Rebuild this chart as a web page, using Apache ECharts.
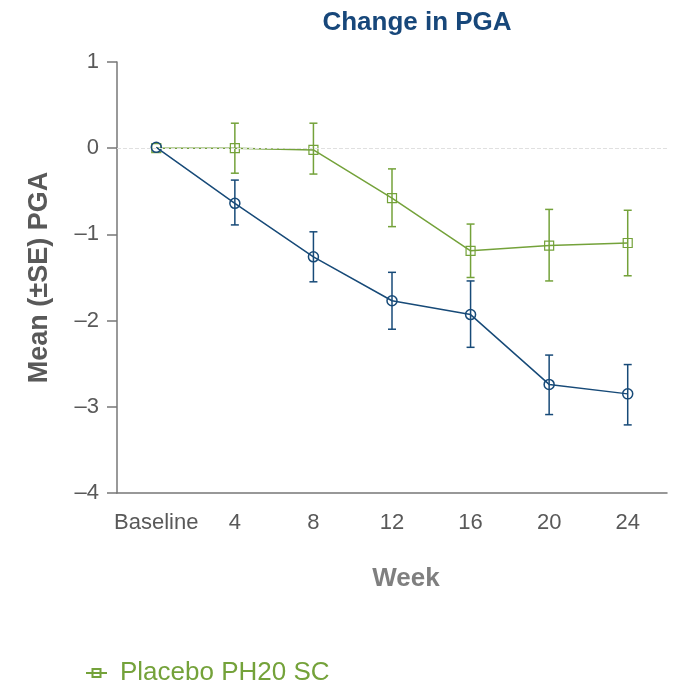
<!DOCTYPE html>
<html>
<head>
<meta charset="utf-8">
<script src="https://cdn.jsdelivr.net/npm/echarts@6/dist/echarts.min.js"></script>
<style>
  html, body { margin: 0; padding: 0; background: #fff; }
  #container { width: 679px; height: 685px; }
</style>
</head>
<body>
<div id="container"></div>
<script>
// data
let weeks = ["Baseline", "4", "8", "12", "16", "20", "24"]

let activeMean = [0.01, -0.64, -1.26, -1.77, -1.93, -2.74, -2.85]
let activeLow = [0.01, -0.89, -1.55, -2.10, -2.31, -3.09, -3.21]
let activeHigh = [0.01, -0.37, -0.97, -1.44, -1.54, -2.40, -2.51]

let placeboMean = [0, 0, -0.02, -0.58, -1.19, -1.13, -1.10]
let placeboLow = [0, -0.29, -0.30, -0.91, -1.50, -1.54, -1.48]
let placeboHigh = [0, 0.29, 0.29, -0.24, -0.88, -0.71, -0.72]

let blue = "#174a78"
let green = "#74a23a"
let grey = "#595959"

function errData(low, high){
    // skip baseline, it has no bar
    return weeks.map((w, i) => [i, low[i], high[i]]).filter((d, i) => i > 0)
}

function errSeries(name, low, high, color){
    return {
        type: "custom",
        name: name,
        data: errData(low, high),
        silent: true,
        z: 1,
        renderItem: function(params, api){
            let x = api.value(0)
            let top = api.coord([x, api.value(2)])
            let bot = api.coord([x, api.value(1)])
            let cap = 4
            let style = { stroke: color, lineWidth: 1.5, fill: null }
            return {
                type: "group",
                children: [
                    { type: "line", shape: { x1: top[0], y1: top[1], x2: bot[0], y2: bot[1] }, style: style },
                    { type: "line", shape: { x1: top[0] - cap, y1: top[1], x2: top[0] + cap, y2: top[1] }, style: style },
                    { type: "line", shape: { x1: bot[0] - cap, y1: bot[1], x2: bot[0] + cap, y2: bot[1] }, style: style }
                ]
            }
        }
    }
}

let minus = v => String(v).replace("-", "\u2013")

let myChart = echarts.init(document.getElementById("container"))
let options = {
    animation: false,
    backgroundColor: "#fff",
    title: {
        text: "Change in PGA",
        left: 412,
        top: 5,
        textAlign: "center",
        textStyle: { color: "#17477a", fontSize: 26, fontWeight: "bold", fontFamily: "Liberation Sans" }
    },
    legend: {
        data: ["Placebo PH20 SC"],
        left: 80,
        top: 655,
        itemWidth: 21,
        itemHeight: 10,
        textStyle: { color: green, fontSize: 26, fontFamily: "Liberation Sans", padding: [0, 0, 0, 8] }
    },
    grid: { left: 117, right: 12, top: 62, bottom: 192 },
    xAxis: {
        type: "category",
        data: weeks,
        boundaryGap: true,
        name: "Week",
        nameLocation: "middle",
        nameGap: 73,
        nameTextStyle: { color: "#7f7f7f", fontSize: 26, fontWeight: "bold", fontFamily: "Liberation Sans", padding: [0, 0, 0, 28] },
        axisLine: { onZero: false, lineStyle: { color: "#777", width: 1.5 } },
        axisTick: { alignWithLabel: true, length: 10, lineStyle: { color: "#777", width: 1.5 } },
        axisLabel: { color: grey, fontSize: 22, margin: 19, fontFamily: "Liberation Sans", interval: 0 },
        splitLine: { show: false }
    },
    yAxis: {
        type: "value",
        min: -4,
        max: 1,
        interval: 1,
        name: "Mean (\u00b1SE) PGA",
        nameLocation: "middle",
        nameGap: 64,
        nameTextStyle: { color: grey, fontSize: 27, fontWeight: "bold", fontFamily: "Liberation Sans" },
        axisLine: { show: true, lineStyle: { color: "#777", width: 1.5 } },
        axisTick: { show: true, length: 10, lineStyle: { color: "#777", width: 1.5 } },
        axisLabel: { color: grey, fontSize: 22, margin: 18, fontFamily: "Liberation Sans", formatter: minus },
        splitLine: { show: false }
    },
    series: [
        errSeries("activeErr", activeLow, activeHigh, blue),
        errSeries("placeboErr", placeboLow, placeboHigh, green),
        {
            type: "line",
            name: "Placebo PH20 SC",
            data: placeboMean,
            symbol: "rect",
            symbolSize: 9,
            z: 3,
            lineStyle: { color: green, width: 1.5 },
            itemStyle: { color: "rgba(0,0,0,0)", borderColor: green, borderWidth: 1.2 },
            markLine: {
                silent: true,
                symbol: "none",
                label: { show: false },
                lineStyle: { color: "#e0e0e0", type: "dashed", width: 1 },
                data: [{ yAxis: 0 }]
            }
        },
        {
            type: "line",
            name: "Active PH20 SC",
            data: activeMean,
            symbol: "circle",
            symbolSize: 10,
            z: 4,
            lineStyle: { color: blue, width: 1.5 },
            itemStyle: { color: "rgba(0,0,0,0)", borderColor: blue, borderWidth: 1.5 }
        }
    ]
}
myChart.setOption(options)
</script>
</body>
</html>
